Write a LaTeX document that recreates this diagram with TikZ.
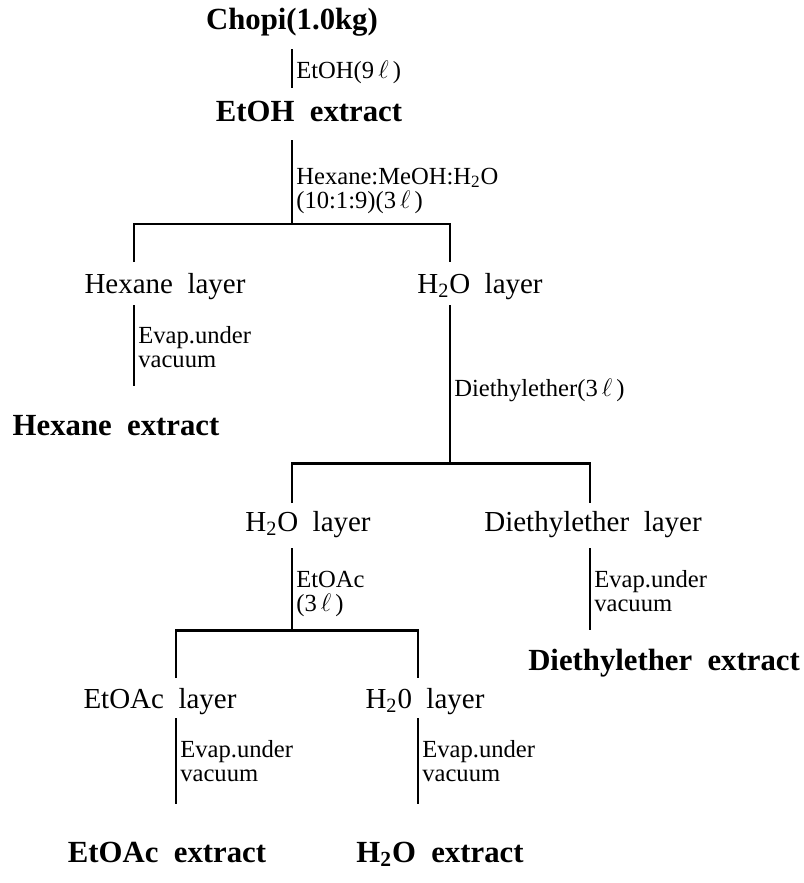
\documentclass[tikz,border=0pt]{standalone}
\usepackage{fontspec}
\setmainfont{Liberation Serif}
\newcommand{\Lt}{\,$\ell$\,}

\begin{document}
\begin{tikzpicture}[x=0.02cm,y=-0.02cm,
    stem/.style={line width=1.7pt},
    bar/.style={line width=1.7pt,line join=miter},
    head/.style={font=\fontsize{17.5}{18}\selectfont\bfseries,inner sep=0pt,anchor=base},
    layer/.style={font=\fontsize{16.5}{18}\selectfont,inner sep=0pt,anchor=base},
    note/.style={font=\fontsize{14}{13.6}\selectfont,inner sep=0pt,anchor=base west,align=left}
  ]
  \useasboundingbox (0,0) rectangle (804,883);

  % top: ethanol extraction
  \node[head] (chopi) at (292,29) {Chopi(1.0kg)};
  \coordinate (s1a) at (292,49);
  \coordinate (s1b) at (292,88);
  \draw[stem] (s1a) -- (s1b);
  \node[note] (n1) at (296,78) {EtOH(9\Lt)};
  \node[head] (etohx) at (309,121) {EtOH~~extract};

  % hexane / water partition
  \coordinate (s2a) at (292,140);
  \coordinate (b1) at (292,224);
  \coordinate (b1l) at (134,224);
  \coordinate (b1r) at (450,224);
  \coordinate (d1l) at (134,262);
  \coordinate (d1r) at (450,262);
  \draw[stem] (s2a) -- (b1);
  \draw[bar] (d1l) -- (b1l) -- (b1r) -- (d1r);
  \node[note] (n2) at (296,208) {Hexane:MeOH:H\textsubscript{2}O\\(10:1:9)(3\Lt)};

  \node[layer] (hexlay) at (165,293) {Hexane~~layer};
  \node[layer] (waterlay) at (480,293) {H\textsubscript{2}O~~layer};

  \coordinate (s3a) at (134,305);
  \coordinate (s3b) at (134,386);
  \draw[stem] (s3a) -- (s3b);
  \node[note] (n3) at (138,367) {Evap.under\\vacuum};
  \node[head] (hexx) at (116,435) {Hexane~~extract};

  % diethylether partition
  \coordinate (s4a) at (450,305);
  \coordinate (b2) at (450,463);
  \coordinate (b2l) at (292,463);
  \coordinate (b2r) at (590,463);
  \coordinate (d2l) at (292,503);
  \coordinate (d2r) at (590,503);
  \draw[stem] (s4a) -- (b2);
  \draw[bar] (d2l) -- (b2l) -- (b2r) -- (d2r);
  \node[note] (n4) at (454,396) {Diethylether(3\Lt)};

  \node[layer] (water2lay) at (308,531) {H\textsubscript{2}O~~layer};
  \node[layer] (etherlay) at (593,531) {Diethylether~~layer};

  \coordinate (s5a) at (590,548);
  \coordinate (s5b) at (590,630);
  \draw[stem] (s5a) -- (s5b);
  \node[note] (n5) at (594,611) {Evap.under\\vacuum};
  \node[head] (etherx) at (664,670) {Diethylether~~extract};

  % ethyl acetate partition
  \coordinate (s6a) at (292,548);
  \coordinate (b3) at (292,630);
  \coordinate (b3l) at (176,630);
  \coordinate (b3r) at (418,630);
  \coordinate (d3l) at (176,678);
  \coordinate (d3r) at (418,678);
  \draw[stem] (s6a) -- (b3);
  \draw[bar] (d3l) -- (b3l) -- (b3r) -- (d3r);
  \node[note] (n6) at (296,611) {EtOAc\\(3\Lt)};

  \node[layer] (acetlay) at (160,708) {EtOAc~~layer};
  \node[layer] (water3lay) at (425,708) {H\textsubscript{2}0~~layer};

  \coordinate (s7a) at (176,718);
  \coordinate (s7b) at (176,804);
  \coordinate (s8a) at (418,718);
  \coordinate (s8b) at (418,804);
  \draw[stem] (s7a) -- (s7b);
  \draw[stem] (s8a) -- (s8b);
  \node[note] (n7) at (180,781) {Evap.under\\vacuum};
  \node[note] (n8) at (422,781) {Evap.under\\vacuum};

  \node[head] (acetx) at (167,862) {EtOAc~~extract};
  \node[head] (waterx) at (440,862) {H\textsubscript{2}O~~extract};
\end{tikzpicture}
\end{document}
